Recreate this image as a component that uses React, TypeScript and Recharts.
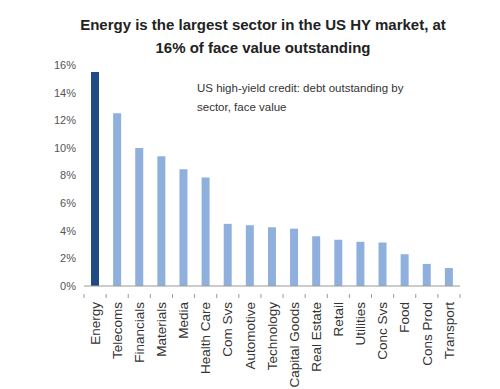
import React from "react";
import { Bar, BarChart, Cell, XAxis, YAxis } from "recharts";

const sectors = [
  "Energy",
  "Telecoms",
  "Financials",
  "Materials",
  "Media",
  "Health Care",
  "Com Svs",
  "Automotive",
  "Technology",
  "Capital Goods",
  "Real Estate",
  "Retail",
  "Utilities",
  "Conc Svs",
  "Food",
  "Cons Prod",
  "Transport",
];
const shares = [
  15.5, 12.5, 10.0, 9.4, 8.45, 7.85, 4.5, 4.4, 4.25, 4.15, 3.6, 3.35, 3.2,
  3.15, 2.3, 1.6, 1.3,
];
const yTicks = [0, 2, 4, 6, 8, 10, 12, 14, 16];

const data = sectors.map((sector, i) => ({ sector, share: shares[i] }));

const font = "'Liberation Sans', Arial, sans-serif";

type TickArgs = {
  x: number;
  y: number;
  index: number;
  payload: { value: string; offset?: number };
};

const SectorTick = (props: TickArgs) => {
  const { x, y, index, payload } = props;
  const half = payload.offset || 11;
  return (
    <g>
      <line x1={x - half} x2={x - half} y1={y} y2={y + 4} stroke="#999" />
      {index === sectors.length - 1 && (
        <line x1={x + half} x2={x + half} y1={y} y2={y + 4} stroke="#999" />
      )}
      <text
        x={x}
        y={y + 8}
        dy="0.35em"
        textAnchor="end"
        fill="#333"
        fontSize={13.5}
        fontFamily={font}
        transform={`rotate(-90, ${x}, ${y + 8})`}
      >
        {payload.value}
      </text>
    </g>
  );
};

export default function App() {
  return (
    <div
      style={{
        position: "absolute",
        left: 0,
        top: 0,
        width: 500,
        height: 389,
        background: "#fff",
        fontFamily: font,
      }}
    >
      <div
        style={{
          position: "absolute",
          top: 13,
          left: 0,
          width: 526,
          textAlign: "center",
          fontSize: 15,
          fontWeight: "bold",
          lineHeight: "23px",
          color: "#222",
        }}
      >
        Energy is the largest sector in the US HY market, at
        <br />
        16% of face value outstanding
      </div>
      <div
        style={{
          position: "absolute",
          top: 79,
          left: 197,
          fontSize: 11.5,
          lineHeight: "19px",
          color: "#333",
        }}
      >
        US high-yield credit: debt outstanding by
        <br />
        sector, face value
      </div>
      <BarChart
        width={500}
        height={389}
        data={data}
        margin={{ top: 65, right: 40, bottom: 3, left: 44 }}
        barSize={8}
      >
        <XAxis
          dataKey="sector"
          interval={0}
          height={100}
          axisLine={{ stroke: "#999" }}
          tickLine={false}
          tick={<SectorTick />}
        />
        <YAxis
          width={40}
          domain={[0, 16]}
          ticks={yTicks}
          tickFormatter={(v: number) => `${v}%`}
          axisLine={false}
          tickLine={false}
          tick={{ fill: "#555", fontSize: 11, fontFamily: font }}
        />
        <Bar dataKey="share" isAnimationActive={false}>
          {data.map((d, i) => (
            <Cell key={d.sector} fill={i === 0 ? "#1F4A86" : "#8FB0DC"} />
          ))}
        </Bar>
      </BarChart>
    </div>
  );
}
